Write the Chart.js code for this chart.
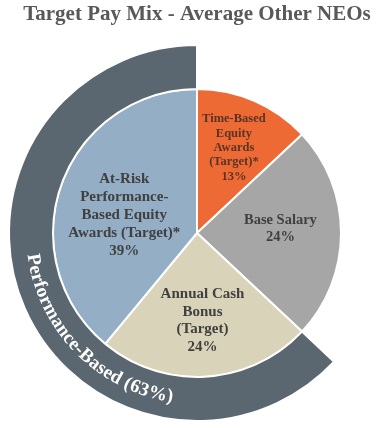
<!DOCTYPE html>
<html><head><meta charset="utf-8">
<script src="https://cdn.jsdelivr.net/npm/chart.js@4.4.1/dist/chart.umd.min.js"></script>
<style>html,body{margin:0;padding:0;background:#fff;overflow:hidden}#wrap{width:382px;height:428px;position:relative}</style>
</head><body><div id="wrap"><canvas id="c"></canvas></div>
<script>
const titleText = 'Target Pay Mix - Average Other NEOs';
const categories = ['Time-Based Equity Awards (Target)*', 'Base Salary', 'Annual Cash Bonus (Target)', 'At-Risk Performance-Based Equity Awards (Target)*'];
const labelLines = [['Time-Based', 'Equity', 'Awards', '(Target)*'], ['Base Salary'], ['Annual Cash', 'Bonus', '(Target)'], ['At-Risk', 'Performance-', 'Based Equity', 'Awards (Target)*']];
const values = [13, 24, 24, 39];
const groupNames = ['', 'Performance-Based'];
const groupValues = [37, 63];

const sliceColors = ['#ee6a35', '#a6a6a6', '#d9d4b9', '#93aec5'];
const ringColor = '#5b6770';
const labelColors = ['#5a3425', '#404040', '#404040', '#404040'];
const labelSizes = [12.5, 14.5, 15, 15];
const labelLH = [14.3, 17, 17.5, 18];
const labelR = [0.645, 0.58, 0.61, 0.52];
const labelAngAdj = [0, -3, 0, -6];
const FONT = '"Liberation Serif", "Times New Roman", serif';

const sliceLabels = {
  id: 'sliceLabels',
  afterDatasetsDraw(chart) {
    const ctx = chart.ctx;
    const meta = chart.getDatasetMeta(1);
    meta.data.forEach((arc, i) => {
      const p = arc.getProps(['x', 'y', 'startAngle', 'endAngle', 'outerRadius'], true);
      const mid = (p.startAngle + p.endAngle) / 2 + labelAngAdj[i] * Math.PI / 180;
      const r = p.outerRadius * labelR[i];
      const cx = p.x + Math.cos(mid) * r;
      const cy = p.y + Math.sin(mid) * r;
      const lines = labelLines[i].concat([values[i] + '%']);
      ctx.save();
      ctx.font = 'bold ' + labelSizes[i] + 'px ' + FONT;
      ctx.fillStyle = labelColors[i];
      ctx.textAlign = 'center';
      ctx.textBaseline = 'middle';
      const lh = labelLH[i];
      lines.forEach((t, k) => {
        ctx.fillText(t, cx, cy - (lines.length - 1) * lh / 2 + k * lh);
      });
      ctx.restore();
    });
    // curved ring text
    const ring = chart.getDatasetMeta(0).data[1];
    const q = ring.getProps(['x', 'y', 'innerRadius', 'outerRadius'], true);
    const text = groupNames[1] + ' (' + groupValues[1] + '%)';
    const rad = (q.innerRadius + q.outerRadius) / 2;
    ctx.save();
    ctx.font = 'bold 19px ' + FONT;
    ctx.fillStyle = '#ffffff';
    ctx.textAlign = 'center';
    ctx.textBaseline = 'middle';
    const widths = Array.from(text).map(ch => ctx.measureText(ch).width);
    const total = widths.reduce((a, b) => a + b, 0) / rad;
    const center = 135.5 * Math.PI / 180;
    let phi = center + total / 2;
    Array.from(text).forEach((ch, k) => {
      const a = phi - widths[k] / 2 / rad;
      ctx.save();
      ctx.translate(q.x + Math.cos(a) * rad, q.y + Math.sin(a) * rad);
      ctx.rotate(a - Math.PI / 2);
      ctx.fillText(ch, 0, 0);
      ctx.restore();
      phi -= widths[k] / rad;
    });
    ctx.restore();
  }
};

new Chart(document.getElementById('c'), {
  type: 'doughnut',
  data: {
    labels: categories,
    datasets: [
      { data: groupValues, backgroundColor: ['rgba(0,0,0,0)', ringColor], borderColor: '#ffffff', borderWidth: [0, 2], weight: 44, hoverOffset: 0 },
      { data: values, backgroundColor: sliceColors, borderColor: '#ffffff', borderWidth: 2, weight: 144, hoverOffset: 0 }
    ]
  },
  options: {
    responsive: true,
    maintainAspectRatio: false,
    animation: false,
    events: [],
    cutout: 0,
    radius: 188,
    layout: { padding: { left: 12, right: 0, top: 2, bottom: 7 } },
    plugins: {
      legend: { display: false },
      tooltip: { enabled: false },
      title: { display: true, text: titleText, color: '#595959', font: { family: FONT, size: 21, weight: 'bold', lineHeight: 1.2 }, padding: { top: 0, bottom: 17.8 } }
    }
  },
  plugins: [sliceLabels]
});
</script>
</body></html>
